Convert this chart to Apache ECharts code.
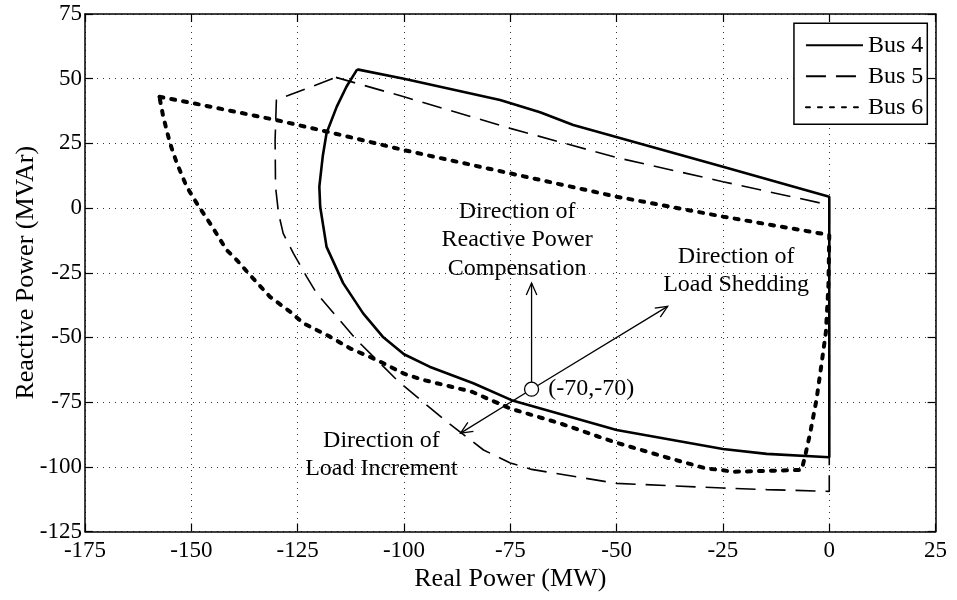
<!DOCTYPE html>
<html>
<head>
<meta charset="utf-8">
<script src="https://cdn.jsdelivr.net/npm/echarts@6/dist/echarts.min.js"></script>
<style>
html,body{margin:0;padding:0;background:#fff;}
#chart{width:957px;height:600px;}
</style>
</head>
<body>
<div id="chart"></div>
<script>
// ---- data ----
const xTicks = [-175, 25, 25];   // min, max, interval
const yTicks = [-125, 75, 25];
const seriesNames = ['Bus 4', 'Bus 5', 'Bus 6'];

const bus4 = [
  [-111, 53.6], [-100, 50], [-77.4, 41.8], [-68, 37], [-60.2, 32.1], [-25, 16], [0, 4.4],
  [0, -96.3], [-14.7, -95], [-25, -93.1], [-50, -85.8], [-74.3, -74.5], [-83.7, -67.7],
  [-94, -61.3], [-100, -56.5], [-105, -49.7], [-109.6, -40.7], [-114.3, -29], [-118.2, -15],
  [-119.7, 0.5], [-119.9, 8.3], [-119.1, 20], [-118.2, 29], [-115.8, 39.2], [-113.5, 47], [-111, 53.6]
];
const bus5 = [
  [-116, 50.5], [-100, 43], [-75, 30.8], [-50, 19.5], [-25, 10.2], [0, 1.2],
  [0, -109.5], [-14.7, -108.8], [-25, -108.2], [-50, -106.4], [-70, -101], [-75, -98.5],
  [-81.3, -93.5], [-89.2, -83.5], [-95.5, -75], [-101.7, -66.4], [-106.4, -58.7], [-111.1, -51],
  [-115.8, -42], [-120.5, -33], [-122.9, -26.5], [-126, -17.5], [-128.4, -9.8], [-129.5, -2],
  [-130.2, 8.3], [-130.3, 26.3], [-130, 41.8], [-116, 50.5]
];
const bus6 = [
  [-157.5, 43], [-149.5, 40.5], [-130, 34], [-118, 29.5], [-100, 22.4], [-75, 13.4], [-50, 4.4],
  [-25, -3.3], [0, -10.4], [-0.2, -30], [-0.8, -48], [-1.8, -60], [-3, -74], [-4.5, -87],
  [-5.7, -96], [-6.5, -101.2], [-13, -101.5], [-22.6, -101.9], [-25.7, -101.2], [-29, -100.6],
  [-38, -96.5], [-50.8, -90.3], [-63.3, -83.2], [-75, -77.5], [-84, -71], [-95.5, -66.4],
  [-100, -64], [-106.4, -58.7], [-112.7, -54.2], [-117.4, -49.7], [-123.7, -44.5], [-126.8, -40],
  [-131.5, -34.3], [-136.2, -25.9], [-139.3, -20.1], [-141.7, -16.2], [-145.6, -5.9],
  [-148.7, 1.8], [-151.1, 8.3], [-153.4, 17.3], [-155, 25], [-156.6, 35.3], [-157.5, 43]
];
const operatingPoint = [[-70, -70]];
const arrows = [[-70, -70, -70, -29], [-70, -70, -38, -38], [-70, -70, -86.7, -87]];
const annotationText = ['Direction of\nReactive Power\nCompensation', 'Direction of\nLoad Shedding', 'Direction of\nLoad Increment'];
const annotationAnchor = [[-73.4, -12.3], [-21.9, -24.2], [-105.3, -95.3]];

// ---- chart ----
const FONT = 'Liberation Serif';
const chart = echarts.init(document.getElementById('chart'), null, {renderer: 'canvas'});

function baseAxis(extra) {
  return Object.assign({
    type: 'value',
    axisLine: {show: true, onZero: false, lineStyle: {color: '#000', width: 1.5}},
    axisTick: {show: true, inside: true, length: 8, lineStyle: {color: '#000', width: 1.2}},
    splitLine: {show: false}
  }, extra);
}

const option = {
  backgroundColor: '#fff',
  animation: false,
  grid: {left: 85, right: 21.4, top: 14, bottom: 68.5, containLabel: false, outerBoundsMode: 'none'},
  legend: {
    data: seriesNames,
    orient: 'vertical',
    right: 29.7,
    top: 23.3,
    itemWidth: 57,
    itemHeight: 14,
    itemGap: 7,
    padding: [10, 4, 5, 11],
    borderColor: '#000',
    borderWidth: 1.5,
    borderRadius: 0,
    backgroundColor: '#fff',
    itemStyle: {color: 'rgba(0,0,0,0)', borderWidth: 0, opacity: 0},
    textStyle: {fontFamily: FONT, fontSize: 24, color: '#000', padding: [0, 0, 0, 0]}
  },
  xAxis: [
    baseAxis({
      position: 'bottom', min: xTicks[0], max: xTicks[1], interval: xTicks[2],
      name: 'Real Power (MW)', nameLocation: 'middle', nameGap: 35, nameMoveOverlap: false,
      nameTextStyle: {fontFamily: FONT, fontSize: 26, color: '#000'},
      axisLabel: {fontFamily: FONT, fontSize: 23, color: '#000', margin: 8},
      splitLine: {show: true, lineStyle: {color: '#333', width: 1, type: [1, 5]}}
    }),
    baseAxis({position: 'top', min: xTicks[0], max: xTicks[1], interval: xTicks[2], axisLabel: {show: false}})
  ],
  yAxis: [
    baseAxis({
      position: 'left', min: yTicks[0], max: yTicks[1], interval: yTicks[2],
      name: 'Reactive Power (MVAr)', nameLocation: 'middle', nameGap: 46, nameRotate: 90, nameMoveOverlap: false,
      nameTextStyle: {fontFamily: FONT, fontSize: 26, color: '#000'},
      axisLabel: {fontFamily: FONT, fontSize: 23, color: '#000', margin: 3},
      splitLine: {show: true, lineStyle: {color: '#333', width: 1, type: [1, 5]}}
    }),
    baseAxis({position: 'right', min: yTicks[0], max: yTicks[1], interval: yTicks[2], axisLabel: {show: false}})
  ],
  series: [
    {
      name: 'Bus 6', type: 'line', data: bus6, symbol: 'none', showSymbol: false, z: 3,
      lineStyle: {color: '#000', width: 4, type: [4, 8], cap: 'round'}, itemStyle: {color: '#000'}
    },
    {
      name: 'Bus 5', type: 'line', data: bus5, symbol: 'none', showSymbol: false, z: 4,
      lineStyle: {color: '#000', width: 1.6, type: [20, 10]}, itemStyle: {color: '#000'}
    },
    {
      name: 'Bus 4', type: 'line', data: bus4, symbol: 'none', showSymbol: false, z: 5,
      lineStyle: {color: '#000', width: 2.6, type: 'solid'}, itemStyle: {color: '#000'}
    },
    {
      name: 'arrows', type: 'custom', data: arrows, z: 6, silent: true,
      renderItem: function (params, api) {
        const p0 = api.coord([api.value(0), api.value(1)]);
        const p1 = api.coord([api.value(2), api.value(3)]);
        const ang = Math.atan2(p1[1] - p0[1], p1[0] - p0[0]);
        const L = 13, a = Math.PI / 7.5;
        const h1 = [p1[0] - L * Math.cos(ang - a), p1[1] - L * Math.sin(ang - a)];
        const h2 = [p1[0] - L * Math.cos(ang + a), p1[1] - L * Math.sin(ang + a)];
        return {
          type: 'group',
          children: [
            {type: 'line', shape: {x1: p0[0], y1: p0[1], x2: p1[0], y2: p1[1]}, style: {stroke: '#000', lineWidth: 1.3}},
            {type: 'polyline', shape: {points: [h1, p1, h2]}, style: {stroke: '#000', fill: null, lineWidth: 1.3}}
          ]
        };
      }
    },
    {
      name: 'annotations', type: 'custom', data: annotationAnchor, z: 6, silent: true,
      renderItem: function (params, api) {
        const p = api.coord([api.value(0), api.value(1)]);
        return {
          type: 'text', x: p[0], y: p[1],
          style: {
            text: annotationText[params.dataIndex], fill: '#000',
            font: '24px "' + FONT + '"', fontFamily: FONT, fontSize: 24,
            align: 'center', verticalAlign: 'middle', lineHeight: 28.5
          }
        };
      }
    },
    {
      name: 'point', type: 'scatter', data: operatingPoint, z: 7, silent: true,
      symbol: 'circle', symbolSize: 14,
      itemStyle: {color: '#fff', borderColor: '#000', borderWidth: 1.3, opacity: 1},
      label: {
        show: true, position: 'right', distance: 9,
        formatter: function (p) { return '(' + p.value[0] + ',' + p.value[1] + ')'; },
        fontFamily: FONT, fontSize: 24, color: '#000'
      }
    }
  ]
};
chart.setOption(option);
</script>
</body>
</html>
